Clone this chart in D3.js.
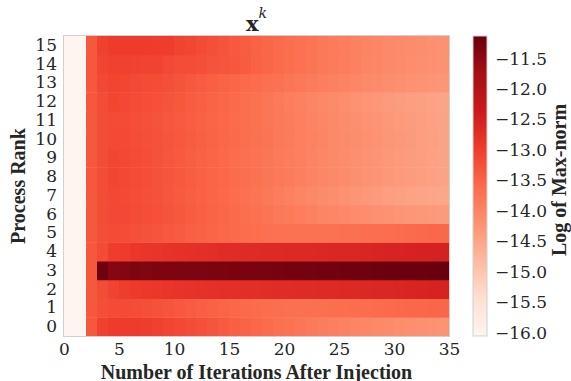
<!DOCTYPE html>
<html>
<head>
<meta charset="utf-8">
<script src="https://cdn.jsdelivr.net/npm/d3@7"></script>
<style>
  body { margin: 0; background: #fff; }
  .tick text { font-family: "DejaVu Serif", serif; font-size: 17px; fill: #262626; }
  .axisLabel { font-family: "Liberation Serif", serif; font-weight: bold; font-size: 20px; fill: #262626; }
</style>
</head>
<body>
<div id="chart-area"></div>
<script>
// iterations after injection (one cell per iteration) and process ranks
const iterations = d3.range(35);
const ranks = d3.range(16);
const xTicks = [0, 5, 10, 15, 20, 25, 30, 35];
const cbTicks = [-16.0, -15.5, -15.0, -14.5, -14.0, -13.5, -13.0, -12.5, -12.0, -11.5];
const vMin = -16.05, vMax = -11.13;

// log of max-norm, per process rank, iteration 0..34
const rank0 = [-16.05, -16.05, -13.35, -13.05, -12.98, -12.97, -12.97, -13.0, -13.05, -13.1, -13.15, -13.2, -13.26, -13.32, -13.38, -13.44, -13.5, -13.56, -13.62, -13.68, -13.73, -13.78, -13.83, -13.88, -13.92, -13.96, -14.0, -14.04, -14.07, -14.1, -14.13, -14.16, -14.18, -14.2, -14.22];
const rank1 = [-16.05, -16.05, -13.35, -13.22, -13.18, -13.18, -13.2, -13.24, -13.28, -13.32, -13.36, -13.4, -13.44, -13.48, -13.52, -13.56, -13.6, -13.62, -13.64, -13.66, -13.68, -13.68, -13.68, -13.68, -13.66, -13.65, -13.64, -13.63, -13.62, -13.6, -13.58, -13.57, -13.56, -13.55, -13.55];
const rank2 = [-16.05, -16.05, -13.35, -13.2, -13.08, -13.0, -12.95, -12.92, -12.9, -12.87, -12.84, -12.82, -12.8, -12.78, -12.77, -12.76, -12.75, -12.74, -12.73, -12.72, -12.71, -12.7, -12.69, -12.68, -12.67, -12.66, -12.65, -12.64, -12.63, -12.62, -12.6, -12.58, -12.56, -12.55, -12.55];
const rank3 = [-16.05, -16.05, -13.35, -11.2, -11.42, -11.4, -11.36, -11.38, -11.35, -11.34, -11.33, -11.33, -11.33, -11.32, -11.32, -11.31, -11.3, -11.3, -11.29, -11.28, -11.27, -11.26, -11.25, -11.24, -11.23, -11.22, -11.21, -11.2, -11.19, -11.18, -11.17, -11.17, -11.16, -11.15, -11.15];
const rank4 = [-16.05, -16.05, -13.35, -13.18, -13.0, -12.98, -12.9, -12.88, -12.85, -12.82, -12.8, -12.78, -12.76, -12.74, -12.72, -12.72, -12.7, -12.7, -12.68, -12.68, -12.66, -12.66, -12.65, -12.64, -12.63, -12.62, -12.62, -12.6, -12.58, -12.57, -12.56, -12.55, -12.53, -12.52, -12.52];
const rank5 = [-16.05, -16.05, -13.35, -13.22, -13.18, -13.2, -13.24, -13.28, -13.32, -13.36, -13.4, -13.44, -13.48, -13.52, -13.56, -13.6, -13.63, -13.66, -13.68, -13.7, -13.72, -13.72, -13.72, -13.72, -13.7, -13.68, -13.68, -13.66, -13.65, -13.64, -13.62, -13.6, -13.58, -13.57, -13.56];
const rank6 = [-16.05, -16.05, -13.35, -13.2, -13.15, -13.15, -13.18, -13.22, -13.26, -13.3, -13.35, -13.4, -13.45, -13.5, -13.55, -13.6, -13.65, -13.7, -13.75, -13.8, -13.85, -13.9, -13.95, -14.0, -14.04, -14.08, -14.12, -14.15, -14.18, -14.21, -14.24, -14.27, -14.29, -14.31, -14.33];
const rank7 = [-16.05, -16.05, -13.35, -13.2, -13.15, -13.16, -13.2, -13.24, -13.28, -13.33, -13.38, -13.43, -13.48, -13.53, -13.58, -13.64, -13.7, -13.76, -13.82, -13.88, -13.94, -14.0, -14.05, -14.1, -14.15, -14.2, -14.25, -14.3, -14.34, -14.38, -14.42, -14.45, -14.48, -14.5, -14.52];
const rank8 = [-16.05, -16.05, -13.35, -13.2, -13.12, -13.14, -13.18, -13.22, -13.27, -13.32, -13.37, -13.42, -13.47, -13.52, -13.57, -13.62, -13.67, -13.72, -13.77, -13.82, -13.87, -13.92, -13.97, -14.02, -14.07, -14.12, -14.16, -14.2, -14.24, -14.28, -14.32, -14.36, -14.4, -14.43, -14.46];
const rank9 = [-16.05, -16.05, -13.35, -13.2, -13.12, -13.15, -13.19, -13.23, -13.28, -13.33, -13.38, -13.43, -13.48, -13.53, -13.58, -13.63, -13.68, -13.73, -13.78, -13.83, -13.88, -13.93, -13.98, -14.03, -14.08, -14.12, -14.16, -14.2, -14.24, -14.28, -14.32, -14.36, -14.4, -14.43, -14.46];
const rank10 = [-16.05, -16.05, -13.35, -13.2, -13.16, -13.17, -13.2, -13.24, -13.28, -13.32, -13.36, -13.41, -13.46, -13.51, -13.56, -13.61, -13.66, -13.71, -13.76, -13.81, -13.86, -13.91, -13.96, -14.01, -14.06, -14.1, -14.14, -14.18, -14.22, -14.26, -14.3, -14.34, -14.38, -14.42, -14.45];
const rank11 = [-16.05, -16.05, -13.35, -13.2, -13.18, -13.18, -13.22, -13.26, -13.3, -13.34, -13.38, -13.42, -13.47, -13.52, -13.57, -13.62, -13.67, -13.72, -13.77, -13.82, -13.87, -13.92, -13.97, -14.02, -14.07, -14.12, -14.16, -14.2, -14.24, -14.28, -14.32, -14.36, -14.4, -14.43, -14.46];
const rank12 = [-16.05, -16.05, -13.35, -13.2, -13.12, -13.15, -13.18, -13.22, -13.26, -13.3, -13.35, -13.4, -13.45, -13.5, -13.55, -13.6, -13.66, -13.72, -13.78, -13.84, -13.9, -13.95, -14.0, -14.05, -14.1, -14.15, -14.2, -14.24, -14.28, -14.32, -14.36, -14.4, -14.42, -14.45, -14.47];
const rank13 = [-16.05, -16.05, -13.35, -13.15, -13.1, -13.12, -13.15, -13.18, -13.2, -13.25, -13.3, -13.35, -13.4, -13.45, -13.5, -13.55, -13.6, -13.64, -13.68, -13.72, -13.77, -13.82, -13.86, -13.9, -13.94, -13.98, -14.02, -14.06, -14.1, -14.13, -14.16, -14.2, -14.22, -14.25, -14.26];
const rank14 = [-16.05, -16.05, -13.35, -13.1, -13.05, -13.05, -13.06, -13.08, -13.08, -13.15, -13.2, -13.2, -13.25, -13.3, -13.32, -13.35, -13.4, -13.48, -13.55, -13.6, -13.65, -13.7, -13.75, -13.8, -13.85, -13.9, -13.95, -14.0, -14.04, -14.07, -14.1, -14.13, -14.16, -14.18, -14.2];
const rank15 = [-16.05, -16.05, -13.35, -13.05, -12.98, -12.97, -12.97, -12.98, -12.99, -13.0, -13.08, -13.12, -13.18, -13.25, -13.3, -13.36, -13.42, -13.48, -13.55, -13.6, -13.66, -13.7, -13.76, -13.8, -13.85, -13.9, -13.94, -13.98, -14.02, -14.06, -14.09, -14.12, -14.15, -14.18, -14.2];

const rows = [rank0, rank1, rank2, rank3, rank4, rank5, rank6, rank7,
    rank8, rank9, rank10, rank11, rank12, rank13, rank14, rank15];

const plot = { left: 64, right: 449, top: 36, bottom: 336 };
const cbar = { left: 473, width: 14 };

const svg = d3
    .select("#chart-area")
    .append("svg")
    .attr("width", 571)
    .attr("height", 381);

const x = d3.scaleLinear().domain([0, 35]).range([plot.left, plot.right]);
const y = d3.scaleBand().domain(ranks).range([plot.bottom, plot.top]);

// matplotlib "Reds" stops
const redsStops = ["#fff5f0", "#fee0d2", "#fcbba1", "#fc9272", "#fb6a4a",
    "#ef3b2c", "#cb181d", "#a50f15", "#67000d"];
const color = d3
    .scaleLinear()
    .domain(d3.range(9).map((i) => vMin + (i / 8) * (vMax - vMin)))
    .range(redsStops)
    .clamp(true);

// cells
const cells = [];
ranks.forEach((r) => {
    iterations.forEach((i) => {
        cells.push({ rank: r, iter: i, value: rows[r][i] });
    });
});

svg.append("g")
    .selectAll("rect")
    .data(cells)
    .join("rect")
    .attr("x", (d) => x(d.iter))
    .attr("y", (d) => y(d.rank))
    .attr("width", x(1) - x(0) + 0.5)
    .attr("height", y.bandwidth() + 0.5)
    .attr("fill", (d) => color(d.value));

// frame
svg.append("rect")
    .attr("x", plot.left - 0.5)
    .attr("y", plot.top - 0.5)
    .attr("width", plot.right - plot.left + 1)
    .attr("height", plot.bottom - plot.top + 1)
    .attr("fill", "none")
    .attr("stroke", "#d0d0d0")
    .attr("stroke-width", 1);

// axes
const xAxis = svg
    .append("g")
    .attr("transform", `translate(0, ${plot.bottom})`)
    .call(d3.axisBottom(x).tickValues(xTicks).tickSize(0).tickPadding(7));
xAxis.select(".domain").remove();

const yAxis = svg
    .append("g")
    .attr("transform", `translate(${plot.left}, 0)`)
    .call(d3.axisLeft(y).tickSize(0).tickPadding(7));
yAxis.select(".domain").remove();

// axis labels
svg.append("text")
    .attr("class", "axisLabel")
    .attr("x", (plot.left + plot.right) / 2)
    .attr("y", 379)
    .attr("text-anchor", "middle")
    .text("Number of Iterations After Injection");

svg.append("text")
    .attr("class", "axisLabel")
    .attr("transform", `translate(25, ${(plot.top + plot.bottom) / 2}) rotate(-90)`)
    .attr("text-anchor", "middle")
    .text("Process Rank");

// title x^k
const title = svg
    .append("text")
    .attr("x", (plot.left + plot.right) / 2)
    .attr("y", 31)
    .attr("text-anchor", "middle")
    .attr("font-family", "DejaVu Serif, serif")
    .attr("fill", "#262626");
title.append("tspan").attr("font-weight", "bold").attr("font-size", "21px").text("x");
title.append("tspan")
    .attr("font-style", "italic")
    .attr("font-size", "14px")
    .attr("dy", -13)
    .text("k");

// colorbar
const cy = d3.scaleLinear().domain([vMin, vMax]).range([plot.bottom, plot.top]);
const defs = svg.append("defs");
const grad = defs
    .append("linearGradient")
    .attr("id", "cbGrad")
    .attr("x1", 0).attr("y1", 1).attr("x2", 0).attr("y2", 0);
redsStops.forEach((c, i) => {
    grad.append("stop").attr("offset", i / 8).attr("stop-color", c);
});
svg.append("rect")
    .attr("x", cbar.left)
    .attr("y", plot.top)
    .attr("width", cbar.width)
    .attr("height", plot.bottom - plot.top)
    .attr("fill", "url(#cbGrad)")
    .attr("stroke", "#d0d0d0")
    .attr("stroke-width", 1);

const cAxis = svg
    .append("g")
    .attr("transform", `translate(${cbar.left + cbar.width}, 0)`)
    .call(
        d3.axisRight(cy)
            .tickValues(cbTicks)
            .tickSize(0)
            .tickPadding(8)
            .tickFormat((d) => d3.format(".1f")(d).replace("-", "\u2212"))
    );
cAxis.select(".domain").remove();

svg.append("text")
    .attr("class", "axisLabel")
    .attr("transform", `translate(566, ${(plot.top + plot.bottom) / 2 - 6}) rotate(-90)`)
    .attr("text-anchor", "middle")
    .text("Log of Max-norm");
</script>
</body>
</html>
